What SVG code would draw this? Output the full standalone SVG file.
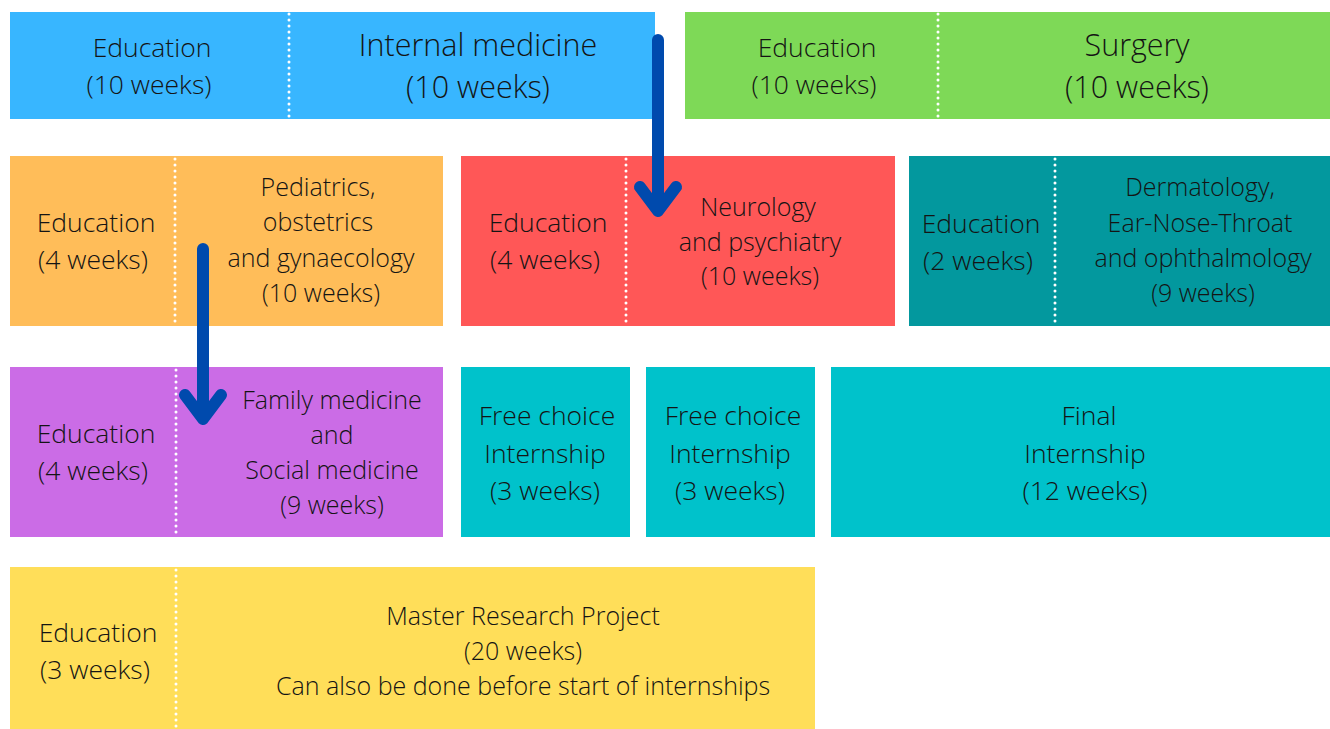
<svg xmlns="http://www.w3.org/2000/svg" width="1330" height="729" viewBox="0 0 1330 729">
<style>
text{font-family:"Open Sans","Noto Sans","Liberation Sans",sans-serif;font-weight:300;fill:#141414;text-anchor:middle}
.b{font-size:26.5px}
.m{font-size:25px}
.l{font-size:30.5px}
.dot{stroke:#fff;stroke-width:3;stroke-dasharray:0 6;stroke-linecap:round;fill:none}
.arr{stroke:#004aad;stroke-width:12;stroke-linecap:round;stroke-linejoin:round;fill:none}
</style>
<rect width="1330" height="729" fill="#fff"/>
<g id="internal">
<rect x="10" y="12" width="645" height="107" fill="#38b6ff"/>
<line class="dot" x1="289" y1="14" x2="289" y2="119"/>
<text class="b" x="152" y="57">Education</text>
<text class="b" x="149" y="94">(10 weeks)</text>
<text class="l" x="478" y="56">Internal medicine</text>
<text class="l" x="478" y="98">(10 weeks)</text>
</g>
<g id="surgery">
<rect x="685" y="12" width="645" height="107" fill="#7ed957"/>
<line class="dot" x1="938" y1="14" x2="938" y2="119"/>
<text class="b" x="817" y="57">Education</text>
<text class="b" x="814" y="94">(10 weeks)</text>
<text class="l" x="1137" y="56">Surgery</text>
<text class="l" x="1137" y="98">(10 weeks)</text>
</g>
<g id="pediatrics">
<rect x="10" y="156" width="433" height="170" fill="#ffbd59"/>
<line class="dot" x1="175" y1="159" x2="175" y2="326"/>
<text class="b" x="96" y="232">Education</text>
<text class="b" x="93" y="269">(4 weeks)</text>
<text class="m" x="318" y="196">Pediatrics,</text>
<text class="m" x="318" y="231">obstetrics</text>
<text class="m" x="321" y="267">and gynaecology</text>
<text class="m" x="321" y="302">(10 weeks)</text>
</g>
<g id="neurology">
<rect x="461" y="156" width="434" height="170" fill="#ff5757"/>
<line class="dot" x1="626" y1="159" x2="626" y2="326"/>
<text class="b" x="548" y="232">Education</text>
<text class="b" x="545" y="269">(4 weeks)</text>
<text class="m" x="758" y="216">Neurology</text>
<text class="m" x="760" y="251">and psychiatry</text>
<text class="m" x="760" y="285">(10 weeks)</text>
</g>
<g id="dermatology">
<rect x="909" y="156" width="421" height="170" fill="#03989e"/>
<line class="dot" x1="1055" y1="159" x2="1055" y2="326"/>
<text class="b" x="981" y="233">Education</text>
<text class="b" x="978" y="270">(2 weeks)</text>
<text class="m" x="1200" y="196">Dermatology,</text>
<text class="m" x="1200" y="232">Ear-Nose-Throat</text>
<text class="m" x="1203" y="267">and ophthalmology</text>
<text class="m" x="1203" y="302">(9 weeks)</text>
</g>
<g id="family">
<rect x="10" y="367" width="433" height="170" fill="#cb6ce6"/>
<line class="dot" x1="176" y1="370" x2="176" y2="537"/>
<text class="b" x="96" y="443">Education</text>
<text class="b" x="93" y="480">(4 weeks)</text>
<text class="m" x="332" y="409">Family medicine</text>
<text class="m" x="332" y="444">and</text>
<text class="m" x="332" y="479">Social medicine</text>
<text class="m" x="332" y="514">(9 weeks)</text>
</g>
<g id="freechoice1">
<rect x="461" y="367" width="169" height="170" fill="#00c2cb"/>
<text class="b" x="547" y="425">Free choice</text>
<text class="b" x="545" y="463">Internship</text>
<text class="b" x="545" y="500">(3 weeks)</text>
</g>
<g id="freechoice2">
<rect x="646" y="367" width="169" height="170" fill="#00c2cb"/>
<text class="b" x="733" y="425">Free choice</text>
<text class="b" x="730" y="463">Internship</text>
<text class="b" x="730" y="500">(3 weeks)</text>
</g>
<g id="final">
<rect x="831" y="367" width="499" height="170" fill="#00c2cb"/>
<text class="b" x="1089" y="425">Final</text>
<text class="b" x="1085" y="463">Internship</text>
<text class="b" x="1085" y="500">(12 weeks)</text>
</g>
<g id="research">
<rect x="10" y="567" width="805" height="162" fill="#ffde59"/>
<line class="dot" x1="176" y1="570" x2="176" y2="729"/>
<text class="b" x="98" y="642">Education</text>
<text class="b" x="95" y="679">(3 weeks)</text>
<text class="m" x="523" y="625">Master Research Project</text>
<text class="m" x="523" y="660">(20 weeks)</text>
<text class="m" x="523" y="695">Can also be done before start of internships</text>
</g>
<g id="connectors">
<path class="arr" d="M658 40 V211 M640 187 L658 211 L676 187"/>
<path class="arr" d="M203 249 V419 M185 395 L203 419 L221 395"/>
</g>
</svg>
